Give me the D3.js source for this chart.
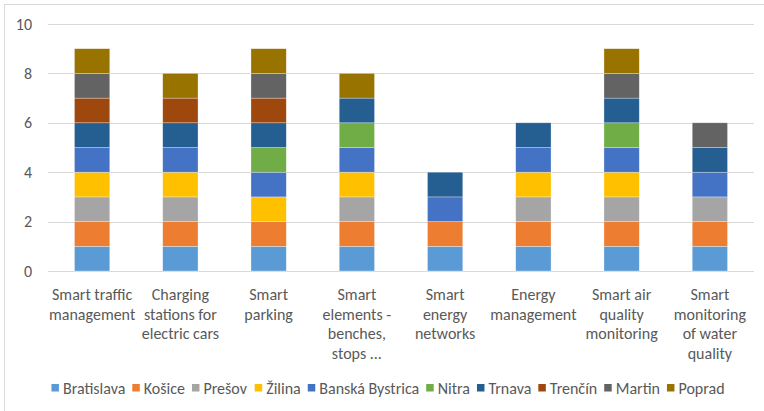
<!DOCTYPE html>
<html>
<head>
<meta charset="utf-8">
<script src="https://cdn.jsdelivr.net/npm/d3@7/dist/d3.min.js"></script>
<style>
  html, body { margin: 0; padding: 0; background: #fff; }
  svg { display: block; }
  text { font-family: Carlito, "Liberation Sans", Arial, sans-serif; fill: #595959; }
</style>
</head>
<body>
<svg id="chart" width="764" height="411"></svg>
<script>
// Smart-city solutions by city, stacked per solution type
const categories = [
  ["Smart traffic", "management"],
  ["Charging", "stations for", "electric cars"],
  ["Smart", "parking"],
  ["Smart", "elements -", "benches,", "stops ..."],
  ["Smart", "energy", "networks"],
  ["Energy", "management"],
  ["Smart air", "quality", "monitoring"],
  ["Smart", "monitoring", "of water", "quality"]
];
const cities = ["Bratislava", "Košice", "Prešov", "Žilina", "Banská Bystrica",
                "Nitra", "Trnava", "Trenčín", "Martin", "Poprad"];
const colors = ["#5B9BD5", "#ED7D31", "#A5A5A5", "#FFC000", "#4472C4",
                "#70AD47", "#255E91", "#9E480E", "#636363", "#997300"];

// one array per city, one value per category
const bratislava    = [1, 1, 1, 1, 1, 1, 1, 1];
const kosice        = [1, 1, 1, 1, 1, 1, 1, 1];
const presov        = [1, 1, 0, 1, 0, 1, 1, 1];
const zilina        = [1, 1, 1, 1, 0, 1, 1, 0];
const banskaBystrica= [1, 1, 1, 1, 1, 1, 1, 1];
const nitra         = [0, 0, 1, 1, 0, 0, 1, 0];
const trnava        = [1, 1, 1, 1, 1, 1, 1, 1];
const trencin       = [1, 1, 1, 0, 0, 0, 0, 0];
const martin        = [1, 0, 1, 0, 0, 0, 1, 1];
const poprad        = [1, 1, 1, 1, 0, 0, 1, 0];
const yTicks = [0, 2, 4, 6, 8, 10];

const seriesValues = [bratislava, kosice, presov, zilina, banskaBystrica,
                      nitra, trnava, trencin, martin, poprad];

const rows = categories.map((c, i) => {
  const r = { idx: i };
  cities.forEach((city, j) => { r[city] = seriesValues[j][i]; });
  return r;
});

const FONT = 'Carlito, "Liberation Sans", Arial, sans-serif';
const svg = d3.select("#chart");

// chart frame
svg.append("rect")
  .attr("x", 4.5).attr("y", 4.5)
  .attr("width", 770).attr("height", 420)
  .attr("fill", "none").attr("stroke", "#d9d9d9").attr("stroke-width", 1);

const plotL = 48, plotR = 754, plotT = 24, plotB = 271;

const x = d3.scaleBand()
  .domain(d3.range(categories.length))
  .range([plotL, plotR])
  .paddingInner(0.6).paddingOuter(0.3);

const y = d3.scaleLinear().domain([0, 10]).range([plotB, plotT]);

// gridlines
svg.append("g")
  .selectAll("line")
  .data(yTicks)
  .join("line")
  .attr("x1", plotL).attr("x2", plotR)
  .attr("y1", d => Math.round(y(d)) + 0.5)
  .attr("y2", d => Math.round(y(d)) + 0.5)
  .attr("stroke", "#d9d9d9").attr("stroke-width", 1);

// y axis labels
const yAxis = svg.append("g")
  .attr("transform", `translate(${plotL - 16},0)`)
  .call(d3.axisLeft(y).tickValues(yTicks).tickSize(0).tickPadding(0));
yAxis.select(".domain").remove();
yAxis.selectAll("text")
  .attr("fill", "#595959")
  .style("font-size", "16px")
  .style("font-family", FONT);

// stacked bars
const stack = d3.stack().keys(cities);
const layers = stack(rows);

svg.append("g")
  .selectAll("g")
  .data(layers)
  .join("g")
  .attr("fill", (d, i) => colors[i])
  .selectAll("rect")
  .data(d => d.filter(s => s[1] - s[0] > 0))
  .join("rect")
  .attr("x", d => x(d.data.idx))
  .attr("width", x.bandwidth())
  .attr("y", d => y(d[1]))
  .attr("height", d => y(d[0]) - y(d[1]))
  .attr("stroke", "#ffffff")
  .attr("stroke-opacity", 0.5)
  .attr("stroke-width", 0.6);

// category labels
const xl = svg.append("g");
categories.forEach((lines, i) => {
  const t = xl.append("text")
    .attr("text-anchor", "middle")
    .attr("x", x(i) + x.bandwidth() / 2)
    .attr("y", 300)
    .style("font-size", "16px");
  lines.forEach((ln, k) => {
    t.append("tspan")
      .attr("x", x(i) + x.bandwidth() / 2)
      .attr("dy", k === 0 ? 0 : 19.5)
      .text(ln);
  });
});

// legend
const legend = svg.append("g").attr("transform", "translate(0,388)");
const items = legend.selectAll("g")
  .data(cities)
  .join("g");
items.append("rect")
  .attr("width", 7.5).attr("height", 7.5)
  .attr("y", -4)
  .attr("fill", (d, i) => colors[i]);
items.append("text")
  .attr("x", 11.5)
  .attr("y", 5.5)
  .style("font-size", "16px")
  .text(d => d);
const widths = [];
items.each(function () { widths.push(this.getBBox().width); });
const gap = 7;
const total = d3.sum(widths) + gap * (widths.length - 1);
let cx = 388 - total / 2;
items.attr("transform", (d, i) => {
  const t = `translate(${cx},0)`;
  cx += widths[i] + gap;
  return t;
});
</script>
</body>
</html>
